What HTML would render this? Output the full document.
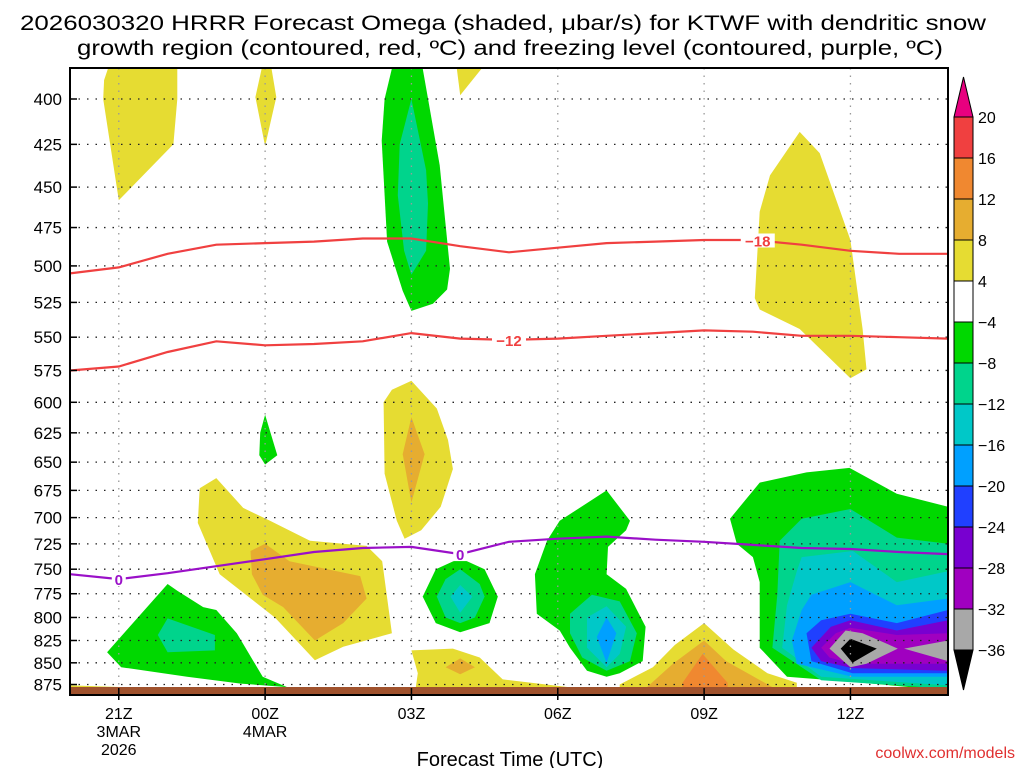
<!DOCTYPE html>
<html><head><meta charset="utf-8"><style>
html,body{margin:0;padding:0;background:#fff;width:1024px;height:768px;overflow:hidden}
svg{display:block;font-family:"Liberation Sans",sans-serif}
</style></head><body>
<svg id="chart" width="1024" height="768" viewBox="0 0 1024 768">
<g>
<text x="20" y="30" font-size="21" textLength="966" lengthAdjust="spacingAndGlyphs" fill="#000">2026030320 HRRR Forecast Omega (shaded, μbar/s) for KTWF with dendritic snow</text>
<text x="77" y="55" font-size="21" textLength="866" lengthAdjust="spacingAndGlyphs" fill="#000">growth region (contoured, red, ºC) and freezing level (contoured, purple, ºC)</text>
</g>
<g id="fills"></g>
<g id="grid"></g>
<g id="lines"></g>
<rect x="70" y="687" width="878" height="7" fill="#a0522d"/>
<rect x="70" y="68" width="878" height="627" fill="none" stroke="#000" stroke-width="2"/>
<g id="yaxis"></g>
<g id="xaxis"></g>
<text x="510" y="766" font-size="20" text-anchor="middle">Forecast Time (UTC)</text>
<text x="1015" y="758" font-size="16" text-anchor="end" fill="#e03030">coolwx.com/models</text>
<g id="cbar"></g>
</svg>
<script>
// axes: hours since 20Z (0..18), pressure (log scale)
const pTicks=[400,425,450,475,500,525,550,575,600,625,650,675,700,725,750,775,800,825,850,875];
const xTickHours=[1,4,7,10,13,16];
const xTickLabels=[["21Z","3MAR","2026"],["00Z","4MAR"],["03Z"],["06Z"],["09Z"],["12Z"]];
const cbLevels=["20","16","12","8","4","−4","−8","−12","−16","−20","−24","−28","−32","−36"];
const cbColors=["#f04040","#f08830","#e6ad30","#e6dc32","#ffffff","#00d800","#00d48c","#00c8c8","#00a0ff","#2040ff","#7800d0","#a000c0","#a8a8a8"];
// temperature contours (pressure at each hour 0..18)
const lineHours=[0,1,2,3,4,5,6,7,8,9,10,11,12,13,14,15,16,17,18];
const minus18=[505,501,492,486,485,484,482,482,487,491,488,485,484,483,483,486,490,492,492];
const minus12=[575,572,561,553,556,555,553,547,551,552,551,549,547,545,546,549,549,550,551];
const freezing0=[755,760,754,747,740,733,729,728,735,723,720,718,721,723,726,729,730,733,735];
// shaded omega regions: [colorIndex, polygon of [hour, pressure]]
const Y="#e6dc32",G8="#e6ad30",O="#f08830",GR="#00d800",TE="#00d48c",CY="#00c8c8",BL="#00a0ff",DB="#2040ff",PU="#7800d0",MG="#a000c0",GY="#a8a8a8",BK="#000000";
const regions=[
[Y,[[0.78,384],[2.2,384],[2.2,400],[2.12,425],[1.0,458],[0.68,400],[0.7,390]]],
[Y,[[3.93,384],[4.13,384],[4.23,399],[4.0,426],[3.8,399]]],
[Y,[[7.93,384],[8.44,384],[8.0,398]]],
[GR,[[6.6,384],[7.23,384],[7.58,437],[7.79,502],[7.73,516],[7.44,526],[7.0,531],[6.82,517],[6.5,484],[6.39,423],[6.45,400]]],
[TE,[[7.0,400],[7.3,440],[7.34,460],[7.3,490],[7.0,506],[6.85,490],[6.72,455],[6.76,425]]],
[Y,[[7.0,583],[7.52,605],[7.75,631],[7.85,656],[7.6,690],[7.2,712],[6.86,720],[6.7,703],[6.45,660],[6.43,600],[6.6,590]]],
[G8,[[7.0,612],[7.27,643],[7.0,686],[6.82,643]]],
[GR,[[4.0,610],[4.25,644],[4.0,652],[3.88,644],[3.9,625]]],
[GR,[[0.76,838],[2.0,765],[2.2,772],[2.73,789],[3.0,792],[3.42,817],[3.95,866],[4.45,878],[3.5,874],[2.4,866],[1.05,855]]],
[TE,[[1.8,819],[2.0,801],[2.97,819],[2.97,836],[2.0,838]]],
[Y,[[3.0,664],[3.55,691],[4.1,703],[4.92,722],[6.08,727],[6.4,742],[6.6,817],[5.6,832],[5.02,847],[4.2,800],[3.07,755],[2.62,705],[2.66,673]]],
[G8,[[3.7,732],[4.0,725],[4.5,742],[5.95,757],[6.08,780],[5.6,806],[5.02,825],[4.37,789],[3.95,776],[3.73,755]]],
[GR,[[8.0,739],[8.5,750],[8.77,778],[8.6,806],[8.0,816],[7.5,806],[7.23,778],[7.5,750]]],
[TE,[[8.0,750],[8.4,765],[8.5,778],[8.3,800],[8.0,806],[7.7,800],[7.52,778],[7.7,760]]],
[CY,[[8.0,766],[8.25,778],[8.0,795],[7.8,778]]],
[Y,[[0,876],[1.1,878],[2.0,882],[2.0,886],[0,886]]],
[Y,[[7.0,836],[7.85,834],[8.4,844],[8.87,869],[10.5,880],[10.5,886],[7.07,886],[7.13,862]]],
[G8,[[8.0,845],[8.3,855],[8.0,863],[7.7,855]]],
[GR,[[11.0,675],[11.48,703],[11.4,712],[11.03,728],[11.0,755],[11.4,770],[11.8,810],[11.74,848],[11.27,862],[11.0,866],[10.6,859],[10.25,833],[10.04,814],[9.57,796],[9.53,755],[9.78,722],[10.04,703]]],
[TE,[[10.25,796],[10.7,776],[11.27,783],[11.62,817],[11.48,848],[11.0,859],[10.5,844],[10.25,817]]],
[CY,[[10.6,800],[11.0,788],[11.4,810],[11.27,840],[11.0,855],[10.6,833]]],
[BL,[[11.0,800],[11.2,817],[11.0,850],[10.8,821]]],
[Y,[[13.0,806],[13.6,835],[14.3,862],[14.9,873],[14.9,886],[11.27,886],[11.27,875],[11.95,855],[12.4,830]]],
[G8,[[13.0,825],[13.45,848],[14.4,878],[14.4,886],[11.83,886],[11.83,878],[12.36,851]]],
[O,[[12.97,840],[13.48,873],[13.48,886],[12.56,886],[12.56,873]]],
[Y,[[14.96,418],[15.37,430],[16.0,483],[16.25,544],[16.33,574],[16.0,581],[14.96,544],[14.14,530],[14.04,522],[14.14,465],[14.35,443]]],
[GR,[[13.53,701],[14.14,668],[15.1,659],[15.98,655],[16.95,678],[18,690],[18,882],[16.04,872],[14.7,866],[14.14,833],[14.14,763],[14.0,738],[13.67,725]]],
[TE,[[14.55,722],[15.0,701],[16.0,692],[16.95,719],[18,725],[18,880],[15.4,870],[14.4,833],[14.5,776]]],
[CY,[[14.9,752],[15.0,738],[16.05,732],[16.95,763],[18,752],[18,876],[15.4,866],[14.6,833],[14.7,787]]],
[BL,[[15.0,792],[15.2,776],[16.0,763],[16.95,787],[18,780],[18,866],[16.04,866],[14.9,851],[14.8,825]]],
[DB,[[15.1,817],[15.4,803],[16.0,796],[16.95,806],[18,792],[18,862],[16.04,862],[15.2,848]]],
[PU,[[15.2,833],[15.6,810],[16.0,803],[16.95,814],[18,803],[18,859],[16.04,856],[15.4,848]]],
[MG,[[15.4,833],[15.7,817],[16.0,811],[16.95,819],[18,817],[18,851],[16.04,851],[15.57,844]]],
[GY,[[15.57,834],[15.9,814],[16.25,817],[16.97,834],[16.33,851],[16.0,855]]],
[GY,[[17.1,834],[18,825],[18,848]]],
[BK,[[15.8,834],[16.0,823],[16.54,834],[16.04,850]]]
];
const X0=70,X1=948,H0=0,H1=18;
function xs(h){return X0+(h-H0)*(X1-X0)/(H1-H0);}
function ys(p){return 99+Math.log(p/400)*748;}
const NS="http://www.w3.org/2000/svg";
function mk(tag,attrs,parent){const e=document.createElementNS(NS,tag);for(const k in attrs)e.setAttribute(k,attrs[k]);parent.appendChild(e);return e;}
const fills=document.getElementById('fills');
mk('clipPath',{id:'clip'},fills);
document.getElementById('clip').appendChild(Object.assign(document.createElementNS(NS,'rect'),{}));
const cr=document.getElementById('clip').firstChild;
cr.setAttribute('x',70);cr.setAttribute('y',68);cr.setAttribute('width',878);cr.setAttribute('height',626);
fills.setAttribute('clip-path','url(#clip)');
regions.forEach((r,i)=>{
  const pts=r[1].map(q=>xs(q[0]).toFixed(1)+','+ys(q[1]).toFixed(1)).join(' ');
  const el=mk('polygon',{points:pts,fill:r[0]},fills);
  
  
});
const grid=document.getElementById('grid');
pTicks.forEach(p=>{
  const l=mk('line',{x1:70,x2:948,y1:ys(p),y2:ys(p),stroke:'#222','stroke-width':1.3,'stroke-dasharray':'1.5 7'},grid);
  
  
});
xTickHours.forEach(h=>{
  const l=mk('line',{x1:xs(h),x2:xs(h),y1:68,y2:694,stroke:'#999','stroke-width':1.3,'stroke-dasharray':'1.5 6'},grid);
  
  
});
const lines=document.getElementById('lines');
function drawLine(vals,color,name,labels,labelText){
  const d=vals.map((p,i)=>(i?'L':'M')+xs(lineHours[i]).toFixed(1)+','+ys(p).toFixed(1)).join(' ');
  const el=mk('path',{d:d,fill:'none',stroke:color,'stroke-width':2.2},lines);
  
  
  labels.forEach(h=>{
    const i=Math.floor(h),f=h-i;const p=vals[i]+(vals[Math.min(i+1,18)]-vals[i])*f;
    const x=xs(h),y=ys(p);
    mk('rect',{x:x-labelText.length*5-2,y:y-7,width:labelText.length*10+4,height:14,fill:'#fff'},lines);
    const t=mk('text',{x:x,y:y+6,'font-size':15,'font-weight':'bold','text-anchor':'middle',fill:color},lines);
    t.textContent=labelText;
    
    
  });
}
drawLine(minus18,'#f04040','contour-minus18',[14.1],'−18');
drawLine(minus12,'#f04040','contour-minus12',[9.0],'−12');
drawLine(freezing0,'#9a10c8','freezing-level-0',[1.0,8.0],'0');
const ya=document.getElementById('yaxis');
pTicks.forEach(p=>{
  mk('line',{x1:70,x2:77,y1:ys(p),y2:ys(p),stroke:'#000','stroke-width':1.5},ya);
  const t=mk('text',{x:62,y:ys(p)+6,'font-size':17,'text-anchor':'end'},ya);
  t.textContent=p;
  
  
});
const xa=document.getElementById('xaxis');
xTickHours.forEach((h,i)=>{
  mk('line',{x1:xs(h),x2:xs(h),y1:688,y2:700,stroke:'#000','stroke-width':1.5},xa);
  xTickLabels[i].forEach((s,j)=>{
    const t=mk('text',{x:xs(h),y:719+j*18,'font-size':16,'text-anchor':'middle'},xa);
    t.textContent=s;
    
    
  });
});
const cb=document.getElementById('cbar');
const cbTop=117,cbStep=41,cbx=954,cbw=19;
mk('polygon',{points:`${cbx},${cbTop} ${cbx+cbw},${cbTop} ${cbx+cbw/2},${cbTop-40}`,fill:'#e8007f',stroke:'#000','stroke-width':1},cb);
cbColors.forEach((c,i)=>{
  const r=mk('rect',{x:cbx,y:cbTop+i*cbStep,width:cbw,height:cbStep,fill:c,stroke:'#000','stroke-width':1},cb);
  
  
});
const cbBot=cbTop+cbColors.length*cbStep;
mk('polygon',{points:`${cbx},${cbBot} ${cbx+cbw},${cbBot} ${cbx+cbw/2},${cbBot+40}`,fill:'#000',stroke:'#000','stroke-width':1},cb);
cbLevels.forEach((s,i)=>{
  const t=mk('text',{x:978,y:cbTop+i*cbStep+6,'font-size':16},cb);
  t.textContent=s;
  
  
});
</script>
</body></html>
